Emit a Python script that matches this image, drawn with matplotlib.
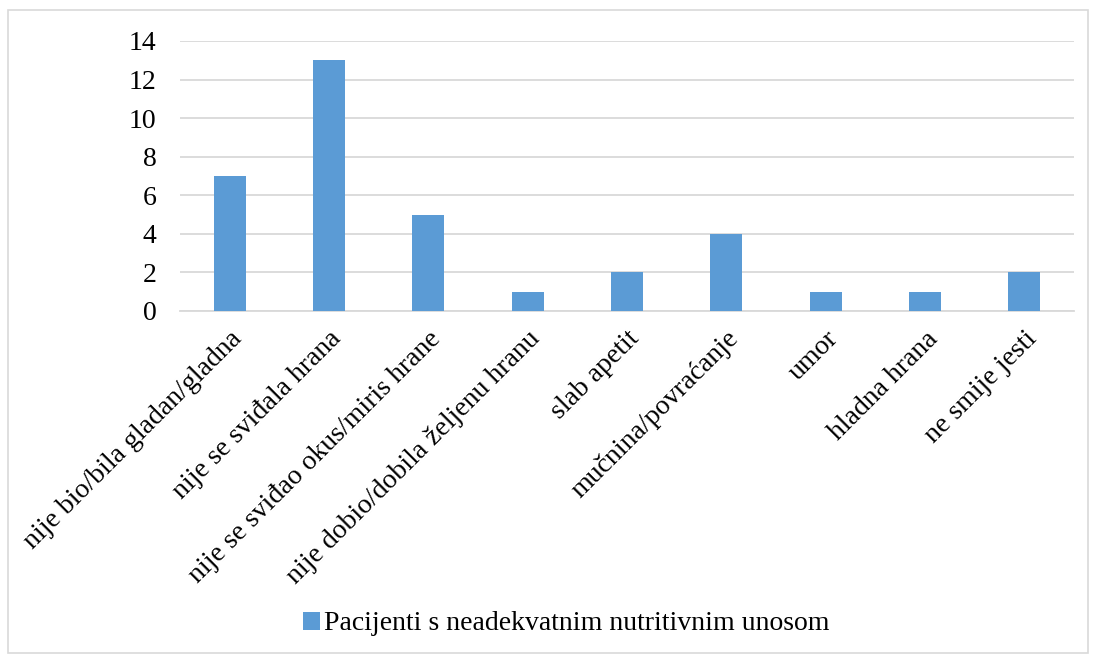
import numpy as np
import matplotlib.pyplot as plt
from matplotlib.patches import Rectangle, Patch

categories = ["nije bio/bila gladan/gladna", "nije se sviđala hrana",
              "nije se sviđao okus/miris hrane", "nije dobio/dobila željenu hranu",
              "slab apetit", "mučnina/povraćanje", "umor", "hladna hrana",
              "ne smije jesti"]
values = [7, 13, 5, 1, 2, 4, 1, 1, 2]
series_name = "Pacijenti s neadekvatnim nutritivnim unosom"
yticks = [0, 2, 4, 6, 8, 10, 12, 14]

bar_color = '#5B9BD5'
grid_color = '#D9D9D9'
font_size = 20

plt.rcParams['font.family'] = ['Liberation Serif', 'DejaVu Serif']

fig = plt.figure(figsize=(10.94, 6.55), dpi=100)
fig.patch.set_facecolor('white')
ax = fig.add_axes([180/1094, 1-311/655, (1074-180)/1094, (311-41)/655])

x = np.arange(len(categories))
ax.bar(x, values, width=0.32, color=bar_color, zorder=3)

ax.set_xlim(-0.5, len(categories) - 0.5)
ax.set_ylim(0, 14)
ax.set_yticks(yticks)
ax.set_yticklabels([str(t) for t in yticks], fontsize=font_size)
ax.set_xticks(x)
ax.set_xticklabels(categories, rotation=45, ha='right', rotation_mode='anchor',
                   fontsize=font_size)
ax.tick_params(axis='both', length=0)
ax.tick_params(axis='y', pad=17)
ax.tick_params(axis='x', pad=11)

ax.grid(axis='y', color=grid_color, linewidth=1.3, zorder=0)
for s in ['top', 'right', 'left']:
    ax.spines[s].set_visible(False)
ax.spines['bottom'].set_color(grid_color)
ax.spines['bottom'].set_linewidth(1.3)

handles = [Patch(facecolor=bar_color, edgecolor='none', label=series_name)]
fig.legend(handles=handles, loc='center', bbox_to_anchor=(566/1094, 1-624/655),
           frameon=False, fontsize=font_size, handlelength=0.6, handleheight=0.6,
           handletextpad=0.15)

# outer frame
fig.add_artist(Rectangle((8/1094, 2/655), (1088-8)/1094, (645-2)/655,
                         transform=fig.transFigure, fill=False,
                         edgecolor=grid_color, linewidth=1.2))

fig.savefig('out.png', dpi=100)
